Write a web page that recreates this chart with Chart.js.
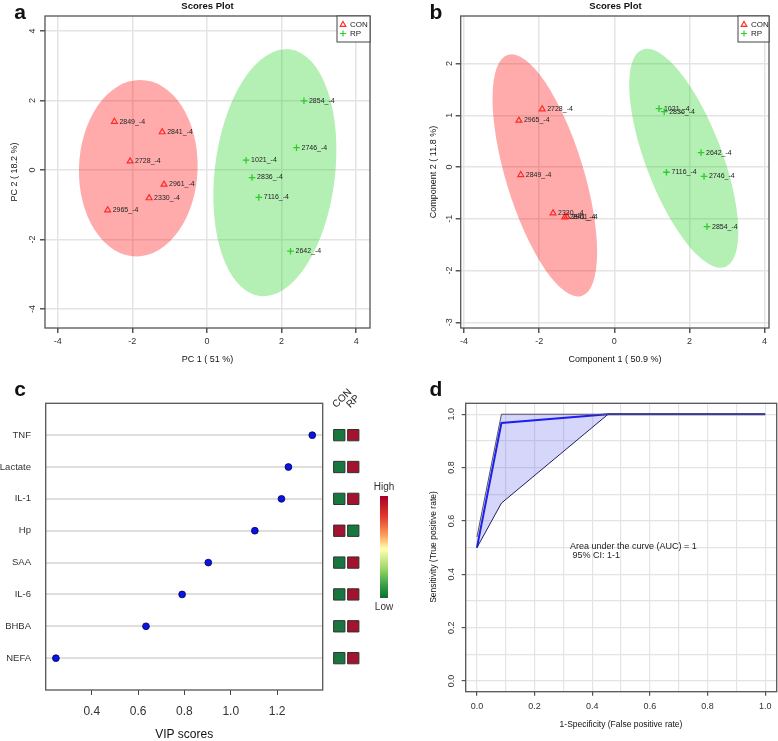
<!DOCTYPE html>
<html>
<head>
<meta charset="utf-8">
<script src="https://cdn.jsdelivr.net/npm/chart.js@4.4.1/dist/chart.umd.min.js"></script>
<style>
body { margin: 0; background: #fff; }
#wrap { position: relative; width: 778px; height: 741px; overflow: hidden; background: #fff; }
canvas { position: absolute; }
</style>
</head>
<body>
<div id="wrap">
  <canvas id="chartA" width="389" height="370" style="left:0;top:0"></canvas>
  <canvas id="chartB" width="389" height="370" style="left:389px;top:0"></canvas>
  <canvas id="chartC" width="325" height="371" style="left:0;top:370px"></canvas>
  <canvas id="chartHeat" width="75" height="371" style="left:325px;top:370px"></canvas>
  <canvas id="chartD" width="378" height="371" style="left:400px;top:370px"></canvas>
</div>
<script>
const FONT = "'Liberation Sans', Arial, sans-serif";
Chart.defaults.font.family = FONT;
Chart.defaults.color = '#333';

// ---- a: PCA scores ----
const pcaIdsCon = ['2849_-4', '2841_-4', '2728_-4', '2961_-4', '2330_-4', '2965_-4'];
const pcaConX = [-2.48, -1.20, -2.06, -1.15, -1.55, -2.66];
const pcaConY = [1.39, 1.09, 0.25, -0.42, -0.81, -1.16];
const pcaIdsRp = ['2854_-4', '2746_-4', '1021_-4', '2836_-4', '7116_-4', '2642_-4'];
const pcaRpX = [2.60, 2.40, 1.05, 1.21, 1.39, 2.24];
const pcaRpY = [1.99, 0.64, 0.28, -0.22, -0.79, -2.34];
const aTicksX = [-4, -2, 0, 2, 4];
const aTicksY = [-4, -2, 0, 2, 4];
// ellipse: centre, half axis u, half axis v (data units)
const aEllCon = { c: [-1.84, 0.05], u: [0.05, 2.54], v: [1.59, 0] };
const aEllRp = { c: [1.82, -0.08], u: [0.40, 3.55], v: [1.60, -0.21] };

// ---- b: PLS-DA scores ----
const plsIdsCon = ['2728_-4', '2965_-4', '2849_-4', '2330_-4', '2841_-4', '2961_-4'];
const plsConX = [-1.92, -2.54, -2.49, -1.63, -1.32, -1.26];
const plsConY = [1.12, 0.90, -0.15, -0.89, -0.97, -0.96];
const plsIdsRp = ['1021_-4', '2836_-4', '2642_-4', '7116_-4', '2746_-4', '2854_-4'];
const plsRpX = [1.19, 1.33, 2.31, 1.39, 2.39, 2.47];
const plsRpY = [1.13, 1.07, 0.28, -0.10, -0.18, -1.15];
const bTicksX = [-4, -2, 0, 2, 4];
const bTicksY = [-3, -2, -1, 0, 1, 2];
const bEllCon = { c: [-1.85, -0.16], u: [-0.98, 2.33], v: [0.99, 0.22] };
const bEllRp = { c: [1.85, 0.17], u: [-1.10, 2.10], v: [0.95, 0.26] };

// ---- c: VIP scores ----
const vipNames = ['TNF', 'Lactate', 'IL-1', 'Hp', 'SAA', 'IL-6', 'BHBA', 'NEFA'];
const vipScores = [1.352, 1.249, 1.219, 1.104, 0.903, 0.790, 0.634, 0.245];
const heatGroups = ['CON', 'RP'];
const vipCon = ['low', 'low', 'low', 'high', 'low', 'low', 'low', 'low'];
const vipRp = ['high', 'high', 'high', 'low', 'high', 'high', 'high', 'high'];
const cTicksX = [0.4, 0.6, 0.8, 1.0, 1.2];

// ---- d: ROC ----
const rocFpr = [0, 0.085, 0.455, 1];
const rocTpr = [0.5, 0.967, 1, 1];
const ciUpFpr = [0, 0.085, 1];
const ciUpTpr = [0.54, 1, 1];
const ciLoFpr = [0, 0.085, 0.455, 1];
const ciLoTpr = [0.5, 0.667, 1, 1];
const dGrid = [0, 0.1, 0.2, 0.3, 0.4, 0.5, 0.6, 0.7, 0.8, 0.9, 1.0];
const dTicks = [0, 0.2, 0.4, 0.6, 0.8, 1.0];

const conColor = '#ff2a2a';
const rpColor = '#2fcc2f';
const levelColor = { low: '#17773f', high: '#a3122f' };

function pts(xs, ys) {
    return xs.map((x, i) => ({ x: x, y: ys[i] }));
}
function isLabelled(v) {
    return dTicks.some(t => Math.abs(t - v) < 1e-6);
}

// extra drawing per canvas (frame, labels, legend, texts)
const panelCfg = {
    chartA: {
        frame: true, ellipses: [[aEllCon, 'rgba(255,0,0,0.33)'], [aEllRp, 'rgba(40,210,40,0.35)']],
        yLabels: aTicksY, yLabelX: 33, yDigits: 0, tickFont: '9px ' + FONT, legend: 33,
        texts: [
            { t: 'a', x: 20, y: 19, font: 'bold 21px ' + FONT },
            { t: 'Scores Plot', x: 207.5, y: 6, font: 'bold 9.5px ' + FONT, base: 'middle' },
            { t: 'PC 1 ( 51 %)', x: 207.5, y: 360, font: '9px ' + FONT, base: 'middle' },
            { t: 'PC 2 ( 18.2 %)', x: 15, y: 172, font: '9px ' + FONT, base: 'middle', rot: true }
        ]
    },
    chartB: {
        frame: true, ellipses: [[bEllCon, 'rgba(255,0,0,0.33)'], [bEllRp, 'rgba(40,210,40,0.35)']],
        yLabels: bTicksY, yLabelX: 61, yDigits: 0, tickFont: '9px ' + FONT, legend: 31,
        texts: [
            { t: 'b', x: 47, y: 19, font: 'bold 21px ' + FONT },
            { t: 'Scores Plot', x: 226.5, y: 6, font: 'bold 9.5px ' + FONT, base: 'middle' },
            { t: 'Component 1 ( 50.9 %)', x: 226, y: 360, font: '9px ' + FONT, base: 'middle' },
            { t: 'Component 2 ( 11.8 %)', x: 44.3, y: 172, font: '9px ' + FONT, base: 'middle', rot: true }
        ]
    },
    chartC: {
        frame: true,
        texts: [
            { t: 'c', x: 20, y: 26, font: 'bold 21px ' + FONT },
            { t: 'VIP scores', x: 184.2, y: 365, font: '12px ' + FONT, base: 'middle' }
        ]
    },
    chartHeat: { heat: true },
    chartD: {
        frame: true, yLabels: dTicks, yLabelX: 51.7, yDigits: 1, tickFont: '9px ' + FONT,
        texts: [
            { t: 'd', x: 36, y: 26, font: 'bold 21px ' + FONT },
            { t: '1-Specificity (False positive rate)', x: 221, y: 354.3, font: '8.5px ' + FONT, base: 'middle' },
            { t: 'Sensitivity (True positive rate)', x: 33.3, y: 177, font: '8.5px ' + FONT, base: 'middle', rot: true }
        ],
        notes: [
            { t: 'Area under the curve (AUC) = 1', x: 0.323, y: 0.506 },
            { t: ' 95% CI: 1-1', x: 0.323, y: 0.471 }
        ]
    }
};

const rstyle = {
    id: 'rstyle',
    beforeDatasetsDraw(chart) {
        const p = panelCfg[chart.canvas.id];
        if (!p || !p.ellipses) return;
        const ctx = chart.ctx, ca = chart.chartArea, xs = chart.scales.x, ys = chart.scales.y;
        ctx.save();
        ctx.beginPath();
        ctx.rect(ca.left, ca.top, ca.right - ca.left, ca.bottom - ca.top);
        ctx.clip();
        p.ellipses.forEach(function (item) {
            const e = item[0];
            const cx = xs.getPixelForValue(e.c[0]), cy = ys.getPixelForValue(e.c[1]);
            const ux = xs.getPixelForValue(e.c[0] + e.u[0]) - cx, uy = ys.getPixelForValue(e.c[1] + e.u[1]) - cy;
            const vx = xs.getPixelForValue(e.c[0] + e.v[0]) - cx, vy = ys.getPixelForValue(e.c[1] + e.v[1]) - cy;
            ctx.save();
            ctx.transform(ux, uy, vx, vy, cx, cy);
            ctx.beginPath();
            ctx.arc(0, 0, 1, 0, Math.PI * 2);
            ctx.restore();
            ctx.fillStyle = item[1];
            ctx.fill();
        });
        ctx.restore();
    },
    afterDatasetsDraw(chart) {
        const p = panelCfg[chart.canvas.id];
        if (!p) return;
        const ctx = chart.ctx, ca = chart.chartArea;
        ctx.save();
        if (p.frame) {
            ctx.strokeStyle = '#555';
            ctx.lineWidth = 1.3;
            ctx.strokeRect(ca.left, ca.top, ca.right - ca.left, ca.bottom - ca.top);
        }
        // sample ids next to points
        ctx.fillStyle = '#222';
        ctx.font = '7px ' + FONT;
        ctx.textAlign = 'left';
        ctx.textBaseline = 'middle';
        chart.data.datasets.forEach(function (ds, i) {
            if (!ds.ids) return;
            chart.getDatasetMeta(i).data.forEach(function (pt, j) {
                ctx.fillText(ds.ids[j], pt.x + 5, pt.y);
            });
        });
        // rotated y tick labels, R style
        if (p.yLabels) {
            const ys = chart.scales.y;
            ctx.font = p.tickFont;
            ctx.fillStyle = '#333';
            ctx.textAlign = 'center';
            p.yLabels.forEach(function (v) {
                ctx.save();
                ctx.translate(p.yLabelX, ys.getPixelForValue(v));
                ctx.rotate(-Math.PI / 2);
                ctx.fillText(v.toFixed(p.yDigits), 0, 0);
                ctx.restore();
            });
        }
        // legend box top right
        if (p.legend) {
            const w = p.legend, h = 26, x0 = ca.right - w, y0 = ca.top;
            ctx.fillStyle = '#fff';
            ctx.fillRect(x0, y0, w, h);
            ctx.strokeStyle = '#444';
            ctx.lineWidth = 1;
            ctx.strokeRect(x0, y0, w, h);
            chart.data.datasets.forEach(function (ds, i) {
                const sx = x0 + 6, sy = y0 + 8.5 + i * 9;
                ctx.strokeStyle = ds.pointBorderColor;
                ctx.lineWidth = 1.2;
                ctx.beginPath();
                if (ds.pointStyle === 'triangle') {
                    ctx.moveTo(sx, sy - 3);
                    ctx.lineTo(sx + 2.8, sy + 1.8);
                    ctx.lineTo(sx - 2.8, sy + 1.8);
                    ctx.closePath();
                } else {
                    ctx.moveTo(sx - 3, sy); ctx.lineTo(sx + 3, sy);
                    ctx.moveTo(sx, sy - 3); ctx.lineTo(sx, sy + 3);
                }
                ctx.stroke();
                ctx.fillStyle = '#222';
                ctx.font = '8px ' + FONT;
                ctx.textAlign = 'left';
                ctx.fillText(ds.label, sx + 7, sy + 0.5);
            });
        }
        // annotations in data units
        if (p.notes) {
            ctx.fillStyle = '#222';
            ctx.font = '9px ' + FONT;
            ctx.textAlign = 'left';
            ctx.textBaseline = 'middle';
            p.notes.forEach(function (n) {
                ctx.fillText(n.t, chart.scales.x.getPixelForValue(n.x), chart.scales.y.getPixelForValue(n.y));
            });
        }
        // heatmap header and colour key
        if (p.heat) {
            const xs = chart.scales.x;
            ctx.fillStyle = '#222';
            ctx.font = '10px ' + FONT;
            ctx.textAlign = 'left';
            ctx.textBaseline = 'alphabetic';
            heatGroups.forEach(function (g, i) {
                ctx.save();
                ctx.translate(xs.getPixelForValue(i) - 3, ca.top + 5);
                ctx.rotate(-Math.PI / 4);
                ctx.fillText(g, 0, 0);
                ctx.restore();
            });
            const grad = ctx.createLinearGradient(0, 126, 0, 228);
            grad.addColorStop(0, '#a50026');
            grad.addColorStop(0.2, '#e4382b');
            grad.addColorStop(0.38, '#fb9d59');
            grad.addColorStop(0.52, '#ffffb5');
            grad.addColorStop(0.7, '#a6d96a');
            grad.addColorStop(0.85, '#45a848');
            grad.addColorStop(1, '#0c6b37');
            ctx.fillStyle = grad;
            ctx.fillRect(55, 126, 8, 102);
            ctx.fillStyle = '#333';
            ctx.textAlign = 'center';
            ctx.textBaseline = 'middle';
            ctx.fillText('High', 59, 117);
            ctx.fillText('Low', 59, 237);
        }
        // titles, letters, axis titles
        (p.texts || []).forEach(function (t) {
            ctx.save();
            ctx.fillStyle = '#111';
            ctx.font = t.font;
            ctx.textAlign = 'center';
            ctx.textBaseline = t.base || 'alphabetic';
            ctx.translate(t.x, t.y);
            if (t.rot) ctx.rotate(-Math.PI / 2);
            ctx.fillText(t.t, 0, 0);
            ctx.restore();
        });
        ctx.restore();
    }
};
Chart.register(rstyle);

const common = {
    responsive: false,
    animation: false,
    devicePixelRatio: 1,
    events: [],
    plugins: { legend: { display: false }, tooltip: { enabled: false } }
};

function scoreChart(id, conX, conY, conIds, rpX, rpY, rpIds, xr, yr, xt, yt, yAxisW, padRight) {
    return new Chart(id, {
        type: 'scatter',
        data: {
            datasets: [
                {
                    label: 'CON', ids: conIds, data: pts(conX, conY), pointStyle: 'triangle', pointRadius: 3.4,
                    pointBorderColor: conColor, pointBackgroundColor: 'rgba(0,0,0,0)', pointBorderWidth: 1.2
                },
                {
                    label: 'RP', ids: rpIds, data: pts(rpX, rpY), pointStyle: 'cross', pointRadius: 3.3,
                    pointBorderColor: rpColor, pointBackgroundColor: rpColor, pointBorderWidth: 1.3
                }
            ]
        },
        options: Object.assign({}, common, {
            layout: { autoPadding: false, padding: { left: 0, right: padRight, top: 16, bottom: 0 } },
            scales: {
                x: {
                    type: 'linear', min: xr[0], max: xr[1],
                    afterBuildTicks: s => { s.ticks = xt.map(v => ({ value: v })); },
                    afterFit: s => { s.height = 42; },
                    grid: { color: '#e4e4e4', lineWidth: 1.5, tickColor: '#555', tickLength: 5 },
                    border: { display: false },
                    ticks: { font: { size: 9 }, color: '#333', padding: 3, maxRotation: 0, autoSkip: false, callback: v => String(v) }
                },
                y: {
                    type: 'linear', min: yr[0], max: yr[1],
                    afterBuildTicks: s => { s.ticks = yt.map(v => ({ value: v })); },
                    afterFit: s => { s.width = yAxisW; },
                    grid: { color: '#e4e4e4', lineWidth: 1.5, tickColor: '#555', tickLength: 5 },
                    border: { display: false },
                    ticks: { display: false }
                }
            }
        })
    });
}

scoreChart('chartA', pcaConX, pcaConY, pcaIdsCon, pcaRpX, pcaRpY, pcaIdsRp,
    [-4.34, 4.37], [-4.55, 4.43], aTicksX, aTicksY, 45, 19);
scoreChart('chartB', plsConX, plsConY, plsIdsCon, plsRpX, plsRpY, plsIdsRp,
    [-4.09, 4.12], [-3.11, 2.92], bTicksX, bTicksY, 71.7, 9);

// VIP dot plot
const nVip = vipNames.length;
new Chart('chartC', {
    type: 'scatter',
    data: {
        datasets: [{
            data: vipScores.map((v, i) => ({ x: v, y: nVip - i })),
            pointRadius: 3.4, pointBackgroundColor: '#0a14e6', pointBorderColor: '#000050', pointBorderWidth: 0.8
        }]
    },
    options: Object.assign({}, common, {
        layout: { autoPadding: false, padding: { left: 0, right: 2.3, top: 33.3, bottom: 0 } },
        scales: {
            x: {
                type: 'linear', min: 0.201, max: 1.397,
                afterBuildTicks: s => { s.ticks = cTicksX.map(v => ({ value: v })); },
                afterFit: s => { s.height = 51; },
                grid: { drawOnChartArea: false, tickColor: '#444', tickLength: 5 },
                border: { display: false },
                ticks: { font: { size: 12 }, color: '#333', padding: 9, maxRotation: 0, callback: v => v.toFixed(1) }
            },
            y: {
                type: 'linear', min: 0, max: nVip + 1,
                afterBuildTicks: s => { s.ticks = vipNames.map((n, i) => ({ value: nVip - i })); },
                afterFit: s => { s.width = 45.7; },
                grid: { color: '#dedede', lineWidth: 2, drawTicks: false },
                border: { display: false },
                ticks: { font: { size: 9.5 }, color: '#333', padding: 14.7, callback: v => vipNames[nVip - v] }
            }
        }
    })
});

// group level cells next to the VIP plot
new Chart('chartHeat', {
    type: 'scatter',
    data: {
        datasets: [vipCon, vipRp].map((levels, g) => ({
            data: vipNames.map((n, i) => ({ x: g, y: nVip - i })),
            pointStyle: 'rect', pointRadius: 8,
            pointBackgroundColor: levels.map(l => levelColor[l]),
            pointBorderColor: '#333', pointBorderWidth: 1
        }))
    },
    options: Object.assign({}, common, {
        layout: { autoPadding: false, padding: { left: 0, right: 0, top: 33.3, bottom: 51 } },
        scales: {
            x: { type: 'linear', display: false, min: -1.02, max: 4.34 },
            y: { type: 'linear', display: false, min: 0, max: nVip + 1 }
        }
    })
});

// ROC curve with confidence band
new Chart('chartD', {
    type: 'scatter',
    data: {
        datasets: [
            {
                data: pts(ciUpFpr, ciUpTpr).concat(pts(ciLoFpr, ciLoTpr).reverse()),
                showLine: true, fill: 'shape', backgroundColor: 'rgba(70,70,230,0.22)',
                borderWidth: 0, pointRadius: 0
            },
            { data: pts(ciUpFpr, ciUpTpr), showLine: true, borderColor: '#555', borderWidth: 1, pointRadius: 0 },
            { data: pts(ciLoFpr, ciLoTpr), showLine: true, borderColor: '#1a1a50', borderWidth: 1, pointRadius: 0 },
            { data: pts(rocFpr, rocTpr), showLine: true, borderColor: '#1515ee', borderWidth: 2, pointRadius: 0 }
        ]
    },
    options: Object.assign({}, common, {
        layout: { autoPadding: false, padding: { left: 0, right: 1.3, top: 33.3, bottom: 0 } },
        scales: {
            x: {
                type: 'linear', min: -0.039, max: 1.04,
                afterBuildTicks: s => { s.ticks = dGrid.map(v => ({ value: v })); },
                afterFit: s => { s.height = 49.3; },
                grid: { color: '#e4e4e4', lineWidth: 1.2, tickLength: 4, tickColor: c => isLabelled(c.tick.value) ? '#555' : 'rgba(0,0,0,0)' },
                border: { display: false },
                ticks: { font: { size: 9 }, color: '#333', padding: 5, maxRotation: 0, autoSkip: false, callback: v => isLabelled(v) ? v.toFixed(1) : '' }
            },
            y: {
                type: 'linear', min: -0.04, max: 1.041,
                afterBuildTicks: s => { s.ticks = dGrid.map(v => ({ value: v })); },
                afterFit: s => { s.width = 65.7; },
                grid: { color: '#e4e4e4', lineWidth: 1.2, tickLength: 4, tickColor: c => isLabelled(c.tick.value) ? '#555' : 'rgba(0,0,0,0)' },
                border: { display: false },
                ticks: { display: false }
            }
        }
    })
});
</script>
</body>
</html>
